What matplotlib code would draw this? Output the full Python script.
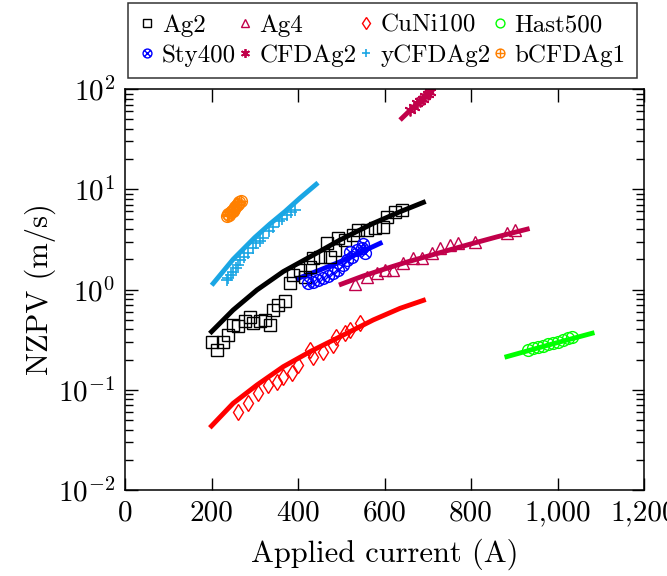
import numpy as np
import matplotlib
matplotlib.use("Agg")
import matplotlib.pyplot as plt
from matplotlib.path import Path
from matplotlib.ticker import FuncFormatter, LogLocator, NullLocator

plt.rcParams['font.family'] = 'serif'
plt.rcParams['font.serif'] = ['cmr10']
plt.rcParams['mathtext.fontset'] = 'cm'
plt.rcParams['axes.formatter.use_mathtext'] = True

# measured points (current in A, NZPV in m/s)
ag2_I = [200, 212, 227, 239, 250, 262, 277, 289, 297, 312, 324, 335, 343, 354, 370,
         382, 389, 405, 416, 428, 435, 451, 466, 474, 486, 493, 509, 528, 539, 559,
         578, 597, 605, 624, 640]
ag2_v = [0.30, 0.25, 0.30, 0.35, 0.44, 0.43, 0.48, 0.53, 0.46, 0.48, 0.50, 0.44, 0.62,
         0.70, 0.76, 1.15, 1.40, 1.56, 1.34, 1.69, 2.05, 2.12, 2.89, 2.12, 2.48, 3.24,
         3.12, 3.50, 3.92, 3.92, 4.08, 4.23, 5.32, 5.97, 6.21]

ag4_I = [532, 559, 582, 601, 620, 643, 667, 686, 709, 728, 751, 771, 809, 883, 902]
ag4_v = [1.13, 1.34, 1.45, 1.57, 1.57, 1.82, 2.05, 2.05, 2.30, 2.58, 2.78, 2.89, 3.00,
         3.64, 3.95]

cuni_I = [262, 285, 308, 331, 351, 366, 385, 401, 428, 435, 458, 482, 489, 508, 520, 543]
cuni_v = [0.060, 0.073, 0.092, 0.111, 0.120, 0.135, 0.146, 0.177, 0.249, 0.214, 0.240,
          0.279, 0.338, 0.366, 0.394, 0.460]

hast_I = [932, 944, 956, 967, 979, 990, 1002, 1013, 1025, 1033]
hast_v = [0.249, 0.259, 0.269, 0.273, 0.284, 0.295, 0.301, 0.313, 0.326, 0.334]

sty_I = [424, 435, 447, 458, 470, 482, 493, 505, 513, 524, 520, 536, 547, 551, 555]
sty_v = [1.15, 1.18, 1.24, 1.29, 1.36, 1.45, 1.57, 1.75, 1.97, 2.12, 2.38, 2.48, 2.58,
         2.82, 2.30]

cfd_I = [659, 668, 675, 682, 688, 694, 700, 705]
cfd_v = [62, 66, 72, 76, 80, 85, 90, 94]

ycfd_I = [235, 239, 245, 250, 256, 262, 266, 275, 285, 295, 304, 312, 320, 332, 343,
          355, 364, 374, 383, 393]
ycfd_v = [1.24, 1.29, 1.40, 1.50, 1.62, 1.75, 1.97, 2.10, 2.30, 2.60, 2.89, 3.05, 3.30,
          3.80, 4.23, 4.80, 5.10, 5.53, 5.90, 6.21]

bcfd_I = [236, 239, 241, 244, 247, 249, 252, 255, 258, 261, 264, 268]
bcfd_v = [5.4, 5.6, 5.5, 5.9, 6.1, 6.0, 6.4, 6.7, 6.9, 7.1, 7.4, 7.6]

# fitted curves
ag2_fit_I = [200, 250, 305, 366, 428, 497, 574, 636, 690]
ag2_fit_v = [0.379, 0.624, 0.989, 1.51, 2.12, 3.12, 4.57, 5.97, 7.4]
ag4_fit_I = [500, 550, 600, 650, 700, 750, 800, 860, 930]
ag4_fit_v = [1.13, 1.36, 1.60, 1.87, 2.15, 2.48, 2.85, 3.35, 4.0]
cuni_fit_I = [200, 250, 305, 366, 428, 497, 574, 636, 690]
cuni_fit_v = [0.0435, 0.0732, 0.1115, 0.170, 0.240, 0.338, 0.497, 0.649, 0.78]
hast_fit_I = [883, 980, 1080]
hast_fit_v = [0.214, 0.28, 0.366]
sty_fit_I = [400, 450, 497, 545, 590]
sty_fit_v = [1.29, 1.56, 1.89, 2.35, 2.89]
cfd_fit_I = [640, 720]
cfd_fit_v = [51, 110]
ycfd_fit_I = [204, 250, 300, 335, 370, 405, 442]
ycfd_fit_v = [1.15, 2.0, 3.3, 4.5, 6.0, 8.2, 11.2]

c_ag4 = '#c1004a'
c_cyan = '#1aa6e4'
c_orange = '#ff8000'

d = np.sqrt(0.5)
circ = Path.unit_circle()
otimes = Path.make_compound_path(
    circ, Path([[-d, -d], [d, d], [-d, d], [d, -d]],
               [Path.MOVETO, Path.LINETO, Path.MOVETO, Path.LINETO]))
oplus = Path.make_compound_path(
    circ, Path([[-1, 0], [1, 0], [0, -1], [0, 1]],
               [Path.MOVETO, Path.LINETO, Path.MOVETO, Path.LINETO]))
aster = (6, 2, 0)

fig = plt.figure(figsize=(6.67, 5.76), dpi=100)
ax = fig.add_axes([125/667, 86/576, 519/667, 401/576])

lw = 3.5
ms = 8.5
mew = 1.0

ax.plot(ag2_fit_I, ag2_fit_v, color='k', lw=lw)
ax.plot(ag4_fit_I, ag4_fit_v, color=c_ag4, lw=lw)
ax.plot(cuni_fit_I, cuni_fit_v, color='red', lw=lw)
ax.plot(hast_fit_I, hast_fit_v, color='#00ff00', lw=lw)
ax.plot(sty_fit_I, sty_fit_v, color='blue', lw=lw)
ax.plot(cfd_fit_I, cfd_fit_v, color=c_ag4, lw=lw)
ax.plot(ycfd_fit_I, ycfd_fit_v, color=c_cyan, lw=lw)

h1, = ax.plot(ag2_I, ag2_v, 's', mfc='none', mec='k', ms=ms, mew=mew, label='Ag2')
h2, = ax.plot(ag4_I, ag4_v, '^', mfc='none', mec=c_ag4, ms=ms, mew=mew, label='Ag4')
h3, = ax.plot(cuni_I, cuni_v, 'd', mfc='none', mec='red', ms=ms, mew=mew, label='CuNi100')
h4, = ax.plot(hast_I, hast_v, 'o', mfc='none', mec='#00ff00', ms=ms, mew=mew, label='Hast500')
h5, = ax.plot(sty_I, sty_v, marker=otimes, ls='none', mfc='none', mec='blue', ms=ms,
              mew=mew, label='Sty400')
h6, = ax.plot(cfd_I, cfd_v, marker=aster, ls='none', color=c_ag4, ms=ms, mew=1.3,
              label='CFDAg2')
h7, = ax.plot(ycfd_I, ycfd_v, '+', ls='none', color=c_cyan, ms=ms, mew=1.2, label='yCFDAg2')
h8, = ax.plot(bcfd_I, bcfd_v, marker=oplus, ls='none', mfc='none', mec=c_orange, ms=ms,
              mew=mew, label='bCFDAg1')

ax.set_yscale('log')
ax.set_xlim(0, 1200)
ax.set_ylim(1e-2, 1e2)
ax.set_xticks(range(0, 1201, 200))
ax.xaxis.set_major_formatter(FuncFormatter(lambda x, p: f'{int(x):,}'))
ax.xaxis.set_minor_locator(NullLocator())
ax.yaxis.set_major_locator(LogLocator(base=10, numticks=10))
ax.yaxis.set_minor_locator(LogLocator(base=10, subs=np.arange(2, 10), numticks=20))
ax.tick_params(which='both', direction='in', top=True, right=True, labelsize=21, width=1.0)
ax.tick_params(which='major', length=9, pad=7)
ax.tick_params(which='minor', length=5.5)
for s in ax.spines.values():
    s.set_linewidth(1.1)

ax.set_xlabel('Applied current (A)', fontsize=22, labelpad=9)
ax.set_ylabel('NZPV (m/s)', fontsize=22, labelpad=1)

# ncol fills column by column, so interleave the rows
handles = [h1, h5, h2, h6, h3, h7, h4, h8]
leg = fig.legend(handles=handles, labels=[h.get_label() for h in handles], ncol=4,
                 loc='upper left', bbox_to_anchor=(128/667, 1 - 3/576), fontsize=18,
                 frameon=True, fancybox=False, edgecolor='k', handlelength=0.6,
                 handletextpad=0.3, columnspacing=0.05, borderpad=0.45,
                 labelspacing=0.3, borderaxespad=0, markerscale=0.75)
leg.get_frame().set_linewidth(1.1)

fig.savefig('out.png', dpi=100)
